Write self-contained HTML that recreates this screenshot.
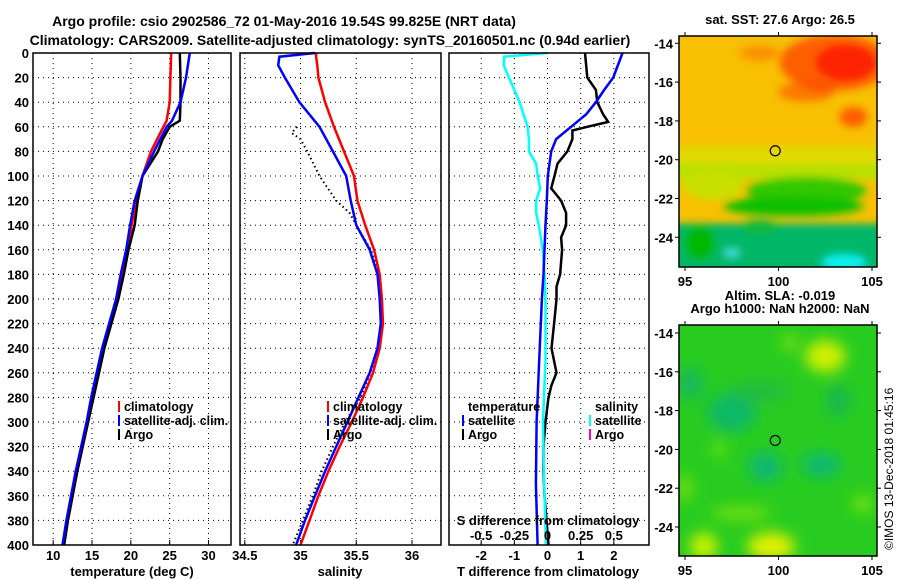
<!DOCTYPE html>
<html><head><meta charset="utf-8"><style>
html,body{margin:0;padding:0;background:#fff;}
svg{display:block;font-family:"Liberation Sans",sans-serif;font-weight:bold;}
</style></head><body>
<svg id="c" width="900" height="580" viewBox="0 0 900 580">
<defs>
<clipPath id="m1c"><rect x="679" y="36" width="198" height="231"/></clipPath>
<clipPath id="m2c"><rect x="679" y="325" width="198" height="231"/></clipPath>
<filter id="bl1" x="-50%" y="-50%" width="200%" height="200%"><feGaussianBlur stdDeviation="4"/></filter>
<filter id="bl2" x="-50%" y="-50%" width="200%" height="200%"><feGaussianBlur stdDeviation="7"/></filter>
</defs>
<text x="284" y="26" text-anchor="middle" font-size="14">Argo profile: csio 2902586_72 01-May-2016 19.54S 99.825E (NRT data)</text>
<text x="330" y="45" text-anchor="middle" font-size="14">Climatology: CARS2009. Satellite-adjusted climatology: synTS_20160501.nc (0.94d earlier)</text>
<g id="maps"></g>
<g id="panels"></g>
<text transform="translate(893,550) rotate(-90)" font-size="12" font-weight="normal">©IMOS 13-Dec-2018 01:45:16</text>
</svg>
<script>
// ===== data =====
const tempDepths=[0,20,40,55,60,70,80,100,120,140,160,180,200,240,280,300,340,380,400];
const tempClim=[25.2,25.1,25.0,24.6,24.2,23.4,22.6,21.5,20.7,20.1,19.6,18.9,18.3,16.5,15.1,14.5,13.1,11.9,11.4];
const tempSat=[27.6,27.1,26.4,25.3,24.6,23.8,23.0,21.5,20.5,19.9,19.4,18.7,18.1,16.3,14.9,14.3,12.9,11.7,11.2];
const tempArgo=[26.3,26.4,26.4,26.3,25.0,24.1,23.5,21.5,20.9,20.5,19.7,19.1,18.4,16.6,15.2,14.5,13.1,11.9,11.4];
const salDepths=[0,3,10,20,40,60,80,100,120,140,160,180,200,220,240,260,280,300,320,340,360,380,400];
const salClim=[35.14,35.14,35.15,35.16,35.22,35.30,35.39,35.48,35.51,35.58,35.66,35.71,35.73,35.74,35.71,35.65,35.56,35.46,35.35,35.25,35.16,35.08,35.00];
const salSat=[35.13,34.81,34.80,34.86,34.99,35.17,35.29,35.41,35.45,35.50,35.62,35.69,35.71,35.72,35.69,35.62,35.52,35.42,35.32,35.22,35.13,35.04,34.96];
const argoSalDepths=[60,65,70,80,100,120,130,140,160,180,200,240,280,300,320,340,360,380,400];
const argoSal=[34.97,34.92,35.00,35.06,35.17,35.32,35.44,35.50,35.63,35.71,35.73,35.71,35.54,35.40,35.29,35.19,35.11,35.02,34.93];
const dTDepths=[0,20,30,40,50,56,60,63,70,80,90,100,110,120,130,140,150,160,180,190,200,220,240,260,270,280,300,320,340,360,380,400];
const dTArgo=[1.13,1.2,1.46,1.5,1.68,1.83,1.2,0.75,0.75,0.6,0.3,0.21,0.11,0.41,0.56,0.56,0.41,0.44,0.38,0.27,0.27,0.2,0.12,0.27,0.12,0.03,-0.06,-0.12,-0.12,-0.09,-0.03,0.03];
const dTSatDepths=[0,20,30,40,50,60,70,80,100,120,140,160,180,200,250,300,350,400];
const dTSat=[2.26,1.98,1.71,1.46,1.16,0.71,0.26,0.11,0.01,-0.02,-0.06,-0.09,-0.12,-0.17,-0.25,-0.33,-0.35,-0.3];
const dSDepths=[0,3,10,20,30,40,60,70,80,90,100,110,120,130,140,160,180,200,250,300,350,400];
const dSSat=[0,-0.326,-0.33,-0.29,-0.25,-0.21,-0.15,-0.14,-0.14,-0.086,-0.074,-0.055,-0.086,-0.086,-0.066,-0.036,-0.023,-0.015,-0.015,-0.034,-0.025,-0.012];
const depthTicks=[0,20,40,60,80,100,120,140,160,180,200,220,240,260,280,300,320,340,360,380,400];
const tempTicks=[10,15,20,25,30];
const salTicks=[34.5,35,35.5,36];
const salTickLabels=["34.5","35","35.5","36"];
const dTTicks=[-2,-1,0,1,2];
const dSTicks=[-0.5,-0.25,0,0.25,0.5];
const dSTickLabels=["-0.5","-0.25","0","0.25","0.5"];
const latTicks=[-14,-16,-18,-20,-22,-24];
const lonTicks=[95,100,105];

const NS="http://www.w3.org/2000/svg";
function mk(tag,attrs,parent){const e=document.createElementNS(NS,tag);for(const k in attrs)e.setAttribute(k,attrs[k]);parent.appendChild(e);return e;}
const panels=document.getElementById('panels');
const TOP=53,BOT=545;
const yD=d=>TOP+(d/400)*(BOT-TOP);
const P=[{x0:33,x1:231,min:7.4,max:32.9},{x0:240,x1:441,min:34.457,max:36.26},{x0:449,x1:649,min:-2.97,max:3.06}];
const sx=(p,v)=>p.x0+(v-p.min)/(p.max-p.min)*(p.x1-p.x0);
const xT=v=>sx(P[0],v), xS=v=>sx(P[1],v), xDT=v=>sx(P[2],v), xDS=v=>sx(P[2],v*4);

P.forEach((p,i)=>{
  const g=mk('g',{},panels);
  
  
  depthTicks.forEach(d=>{
    const l=mk('line',{x1:p.x0,x2:p.x1,y1:yD(d),y2:yD(d),stroke:'#000','stroke-width':1,'stroke-dasharray':'1,4'},g);
    
    
  });
});
function vgrid(xs,p){xs.forEach(x=>{
  const l=mk('line',{x1:x,x2:x,y1:TOP,y2:BOT,stroke:'#000','stroke-width':1,'stroke-dasharray':'1,4'},panels);
  
  
  mk('line',{x1:x,x2:x,y1:BOT,y2:BOT-5,stroke:'#000'},panels);
});}
vgrid(tempTicks.map(xT));vgrid(salTicks.map(xS));vgrid(dTTicks.map(xDT));
depthTicks.forEach(d=>{
  const t=mk('text',{x:29,y:yD(d)+5,'text-anchor':'end','font-size':13},panels);
  t.textContent=d;
  
  
});
function line(xf,vals,depths,color,w,dash,name){
  const pts=vals.map((v,i)=>xf(v).toFixed(1)+','+yD(depths[i]).toFixed(1)).join(' ');
  const a={points:pts,fill:'none',stroke:color,'stroke-width':w};
  if(dash)a['stroke-dasharray']=dash;
  const e=mk('polyline',a,panels);
  
  
}
line(xT,tempClim,tempDepths,'#f00',2.5,null,'temp-climatology-line');
line(xT,tempArgo,tempDepths,'#000',2.5,null,'temp-argo-line');
line(xT,tempSat,tempDepths,'#00f',2.5,null,'temp-satellite-line');
line(xS,argoSal,argoSalDepths,'#000',2,'1.5,3','salinity-argo-line');
line(xS,salClim,salDepths,'#f00',2.5,null,'salinity-climatology-line');
line(xS,salSat,salDepths,'#00f',2.5,null,'salinity-satellite-line');
line(xDT,dTArgo,dTDepths,'#000',2.5,null,'tdiff-argo-line');
line(xDS,dSSat,dSDepths,'#0ff',2.5,null,'sdiff-satellite-line');
line(xDT,dTSat,dTSatDepths,'#00f',2.5,null,'tdiff-satellite-line');
P.forEach((p,i)=>{
  const r=mk('rect',{x:p.x0,y:TOP,width:p.x1-p.x0,height:BOT-TOP,fill:'none',stroke:'#000','stroke-width':1.5},panels);
  
  
});
function xlabels(vals,labels,xf,y,name){vals.forEach((v,i)=>{
  const t=mk('text',{x:xf(v),y:y,'text-anchor':'middle','font-size':13},panels);
  t.textContent=labels?labels[i]:v;
  
  
});}
xlabels(tempTicks,null,xT,560,'temp-tick-label');
xlabels(salTicks,salTickLabels,xS,560,'salinity-tick-label');
xlabels(dTTicks,null,xDT,560,'tdiff-tick-label');
xlabels(dSTicks,dSTickLabels,xDS,540,'sdiff-tick-label');
function txt(s,x,y,anchor,name,size){
  const t=mk('text',{x:x,y:y,'text-anchor':anchor||'start','font-size':size||13},panels);
  t.textContent=s;
  
  
}
txt('temperature (deg C)',132,576,'middle','x-axis-title-temperature');
txt('salinity',340,576,'middle','x-axis-title-salinity');
txt('T difference from climatology',548,576,'middle','x-axis-title-tdiff');
txt('S difference from climatology',548,525,'middle','x-axis-title-sdiff');
function leg(x,y,color,label,name){
  mk('rect',{x:x,y:y-10,width:2,height:11,fill:color},panels);
  txt(label,x+6,y,'start',name,12.5);
}
leg(118,411,'#f00','climatology','legend-temp-climatology');
leg(118,425,'#00f','satellite-adj. clim.','legend-temp-satellite');
leg(118,439,'#000','Argo','legend-temp-argo');
leg(327,411,'#f00','climatology','legend-sal-climatology');
leg(327,425,'#00f','satellite-adj. clim.','legend-sal-satellite');
leg(327,439,'#000','Argo','legend-sal-argo');
txt('temperature',468,411,'start','legend-title-temperature',12.5);
txt('salinity',595,411,'start','legend-title-salinity',12.5);
leg(462,425,'#00f','satellite','legend-tdiff-satellite');
leg(462,439,'#000','Argo','legend-tdiff-argo');
leg(589,425,'#0ff','satellite','legend-sdiff-satellite');
leg(589,439,'#f0c','Argo','legend-sdiff-argo');

// ===== maps =====
const maps=document.getElementById('maps');
const MX0=679,MX1=877;
const lonX=lon=>685+(lon-95)*18.7;
function mapFrame(top,lat14y,title1,idx,draw){
  const g=mk('g',{},maps);
  
  
  const latY=lat=>lat14y+(-14-lat)*19.4;
  const inner=mk('g',{'clip-path':'url(#m'+idx+'c)'},g);
  draw(inner,latY);
  mk('rect',{x:MX0,y:top,width:MX1-MX0,height:231,fill:'none',stroke:'#000','stroke-width':1.5},g);
  latTicks.forEach(l=>{
    const y=latY(l);
    mk('line',{x1:MX0-4,x2:MX0,y1:y,y2:y,stroke:'#000'},g);
    mk('line',{x1:MX1,x2:MX1+4,y1:y,y2:y,stroke:'#000'},g);
    const t=mk('text',{x:MX0-6,y:y+5,'text-anchor':'end','font-size':13},g);
    t.textContent=l;
    
    
  });
  lonTicks.forEach(l=>{
    const x=lonX(l);
    mk('line',{x1:x,x2:x,y1:top+231,y2:top+235,stroke:'#000'},g);
    mk('line',{x1:x,x2:x,y1:top-4,y2:top,stroke:'#000'},g);
    const t=mk('text',{x:x,y:top+250,'text-anchor':'middle','font-size':13},g);
    t.textContent=l;
    
    
  });
  const c=mk('circle',{cx:lonX(99.825),cy:latY(-19.54),r:5,fill:'none',stroke:'#000','stroke-width':1.2},g);
  
  
  title1.forEach((s,i)=>{
    const t=mk('text',{x:780,y:(top-12)+i*13-(title1.length-1)*13,'text-anchor':'middle','font-size':13},g);
    t.textContent=s;
    
    
  });
}
mapFrame(36,43.3,['sat. SST: 27.6 Argo: 26.5'],1,(g,latY)=>{
  mk('rect',{x:MX0,y:36,width:198,height:231,fill:'#f8c000'},g);
  const b=mk('g',{filter:'url(#bl1)'},g);
  const E=(lon,lat,rx,ry,col,op)=>mk('ellipse',{cx:lonX(lon),cy:latY(lat),rx:rx,ry:ry,fill:col,'fill-opacity':op||1},b);
  E(103,-15,55,28,'#ff2000',0.6);E(103.6,-15,30,18,'#ff1000',0.7);E(101.5,-16.5,28,10,'#ff3000',0.5);
  E(104,-17.8,14,10,'#ff2000',0.6);E(99,-14.5,20,8,'#ff4000',0.35);
  mk('rect',{x:MX0-10,y:latY(-19.3),width:220,height:22,fill:'#e0d800'},b);
  mk('rect',{x:MX0-10,y:latY(-20.2),width:220,height:16,fill:'#b8e000'},b);
  E(96.5,-21.3,30,15,'#c8e000');E(101.5,-21.6,60,14,'#30c800');
  E(100.8,-22.4,70,10,'#10c000');
  mk('rect',{x:MX0-10,y:latY(-23.3),width:220,height:60,fill:'#00b868'},b);
  E(95.8,-24.3,16,18,'#00b800');E(99,-23.5,18,8,'#08b840');
  E(103.5,-25.3,22,8,'#10f0f0');E(97.5,-24.8,8,4,'#40e0e0');
});
mapFrame(325,333,['Altim. SLA: -0.019','Argo h1000: NaN h2000: NaN'],2,(g,latY)=>{
  mk('rect',{x:MX0,y:325,width:198,height:231,fill:'#28cc20'},g);
  const b=mk('g',{filter:'url(#bl2)'},g);
  const E=(lon,lat,rx,ry,col)=>mk('ellipse',{cx:lonX(lon),cy:latY(lat),rx:rx,ry:ry,fill:col},b);
  E(97.5,-18.1,24,19,'#10b868');E(95.3,-16.6,12,16,'#18b860');E(99.3,-20.9,17,15,'#10b870');
  E(102.3,-20.8,20,12,'#10b870');E(103.2,-17.5,12,16,'#18b850');E(99,-17,30,10,'#20bc40');
  E(102.5,-15.2,20,16,'#d0f000');E(100.6,-14.5,7,9,'#80e010');
  E(99.6,-25,24,14,'#e0f000');E(96,-25,14,14,'#c8f000');E(98,-23.3,30,7,'#70e010');
  E(95,-22,7,15,'#70e010');E(104.5,-22.8,11,9,'#70e010');E(96.8,-20,7,9,'#60e010');
});
</script>
</body></html>
